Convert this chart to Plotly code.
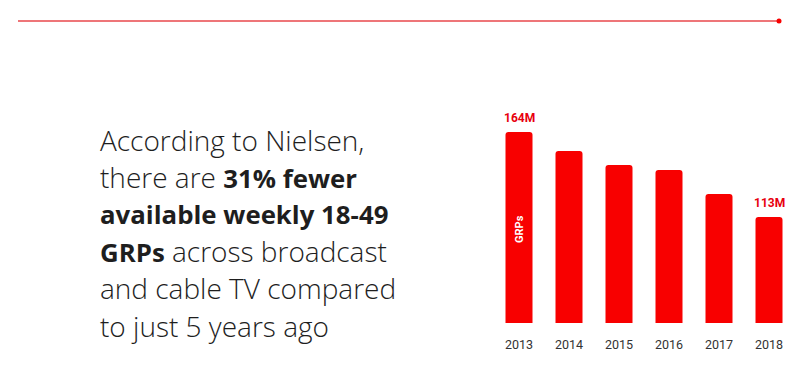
import plotly.graph_objects as go

years = [2013, 2014, 2015, 2016, 2017, 2018]
grps = [164, 152.6, 144.2, 141.2, 126.8, 113]
value_labels = ["164M", "", "", "", "", "113M"]
inner_label = "GRPs"
text_lines = [
    "According to Nielsen,",
    "there are <b>31% fewer</b>",
    "<b>available weekly 18-49</b>",
    "<b>GRPs</b> across broadcast",
    "and cable TV compared",
    "to just 5 years ago",
]

RED = "#f80000"
W, H = 808, 390
L, R, T, B = 494, 14, 100, 67
pw, ph = W - L - R, H - T - B


def px(x):
    return (x - L) / pw


def py(y):
    return (H - B - y) / ph


def style_bold(s):
    return s.replace("<b>", "<span style='font-size:25.8px'><b>").replace("</b>", "</b></span>")


fig = go.Figure()
fig.add_trace(go.Bar(
    x=years, y=grps, width=0.54,
    marker=dict(color=RED, cornerradius=3, line=dict(width=0)),
    hoverinfo="skip",
))

annotations = []
for yr, v, lab in zip(years, grps, value_labels):
    if lab:
        annotations.append(dict(
            x=yr, y=v, xref="x", yref="y", text="<b>" + lab + "</b>",
            showarrow=False, yanchor="bottom", yshift=5,
            font=dict(family="Roboto", size=12, color="#e8000e"),
        ))
annotations.append(dict(
    x=years[0], y=105.8, xref="x", yref="y", text="<b>" + inner_label + "</b>",
    showarrow=False, textangle=-90,
    font=dict(family="Roboto", size=11, color="white"),
))
for i, line in enumerate(text_lines):
    annotations.append(dict(
        x=px(98), y=py(139.5 + i * 37.2), xref="paper", yref="paper",
        text=style_bold(line), showarrow=False, xanchor="left", yanchor="middle",
        font=dict(family="Open Sans", size=28, color="#1e1e1e", weight=300),
    ))

shapes = [
    dict(type="line", xref="paper", yref="paper", x0=px(18), x1=px(779),
         y0=py(21), y1=py(21), line=dict(color="#e8474b", width=1.5)),
    dict(type="circle", xref="paper", yref="paper", x0=px(776.5), x1=px(781.5),
         y0=py(18.5), y1=py(23.5), fillcolor=RED, line=dict(width=0)),
]

fig.update_layout(
    width=W, height=H,
    margin=dict(l=L, r=R, t=T, b=B, pad=0),
    paper_bgcolor="white", plot_bgcolor="white",
    showlegend=False,
    annotations=annotations, shapes=shapes,
    xaxis=dict(range=[years[0] - 0.5, years[-1] + 0.5], tickmode="array",
               tickvals=years, ticktext=[str(y) for y in years],
               showgrid=False, zeroline=False, showline=False,
               ticks="outside", ticklen=10, tickcolor="rgba(0,0,0,0)",
               tickfont=dict(family="Roboto", size=12.5, color="#333333")),
    yaxis=dict(range=[49.4, 183.2], visible=False, showgrid=False, zeroline=False),
)

fig.write_html("out.html", config={"displayModeBar": False},
               post_script="document.body.style.margin='0';document.body.style.overflow='hidden';")
